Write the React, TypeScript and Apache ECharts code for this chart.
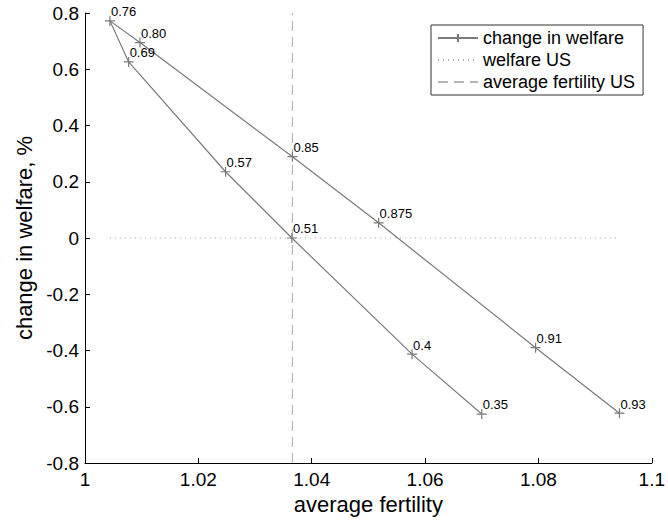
import React, { useEffect, useRef } from "react";
import * as echarts from "echarts";

const paramLabels = ["0.35", "0.4", "0.51", "0.57", "0.69", "0.76", "0.80", "0.85", "0.875", "0.91", "0.93"];
const fertility = [1.0700, 1.0577, 1.0365, 1.0248, 1.0077, 1.0044, 1.0097, 1.0366, 1.0518, 1.0795, 1.0943];
const welfare = [-0.626, -0.413, 0.0, 0.2355, 0.626, 0.772, 0.695, 0.289, 0.054, -0.39, -0.623];
const welfareUS = 0;
const fertilityUS = 1.0366;
const xRange = [1, 1.1];
const yRange = [-0.8, 0.8];

const FONT = "'Liberation Sans', Arial, Helvetica, sans-serif";

export default function App() {
  const ref = useRef<HTMLDivElement>(null);
  useEffect(() => {
    if (!ref.current) return;
    const chart = echarts.init(ref.current, undefined, { renderer: "svg" });
    const mainData = fertility.map((x, i) => ({ value: [x, welfare[i]], name: paramLabels[i] }));
    const xMin = Math.min(...fertility);
    const xMax = Math.max(...fertility);
    chart.setOption({
      animation: false,
      textStyle: { fontFamily: FONT },
      grid: { left: 85, right: 10, top: 13, bottom: 62, containLabel: false },
      legend: {
        orient: "vertical",
        left: 431,
        top: 25,
        padding: [4, 8, 4, 6],
        itemGap: 4,
        itemWidth: 40,
        itemHeight: 10,
        borderColor: "#333",
        borderWidth: 1,
        backgroundColor: "#fff",
        textStyle: { fontFamily: FONT, fontSize: 18, color: "#000", lineHeight: 17 },
        data: [
          { name: "change in welfare" },
          { name: "welfare US", itemStyle: { opacity: 0 } },
          { name: "average fertility US", itemStyle: { opacity: 0 } },
        ],
      },
      xAxis: {
        type: "value",
        min: xRange[0],
        max: xRange[1],
        interval: 0.02,
        name: "average fertility",
        nameLocation: "middle",
        nameGap: 30,
        nameTextStyle: { fontFamily: FONT, fontSize: 22, color: "#000" },
        axisLine: { show: true, onZero: false, lineStyle: { color: "#000", width: 1 } },
        axisTick: { show: true, inside: true, length: 5, lineStyle: { color: "#000" } },
        axisLabel: { fontFamily: FONT, fontSize: 19, color: "#000", margin: 7 },
        splitLine: { show: false },
      },
      yAxis: {
        type: "value",
        min: yRange[0],
        max: yRange[1],
        interval: 0.2,
        name: "change in welfare, %",
        nameLocation: "middle",
        nameGap: 37,
        nameTextStyle: { fontFamily: FONT, fontSize: 22, color: "#000" },
        axisLine: { show: true, onZero: false, lineStyle: { color: "#000", width: 1 } },
        axisTick: { show: true, inside: true, length: 5, lineStyle: { color: "#000" } },
        axisLabel: { fontFamily: FONT, fontSize: 19, color: "#000", margin: 6 },
        splitLine: { show: false },
      },
      series: [
        {
          name: "change in welfare",
          type: "line",
          data: mainData,
          symbol: "path://M5 0 L5 10 M0 5 L10 5",
          symbolSize: 10,
          showSymbol: true,
          lineStyle: { color: "#7a7a7a", width: 1.2 },
          itemStyle: { color: "#7a7a7a", borderColor: "#7a7a7a", borderWidth: 1.2 },
          label: {
            show: true,
            formatter: (p: any) => p.name,
            position: "top",
            align: "left",
            verticalAlign: "bottom",
            distance: -3,
            offset: [1, 0],
            fontFamily: FONT,
            fontSize: 13,
            color: "#000",
          },
          emphasis: { disabled: true },
          z: 5,
        },
        {
          name: "welfare US",
          type: "line",
          data: [[xMin, welfareUS], [xMax, welfareUS]],
          symbol: "none",
          lineStyle: { color: "#aaaaaa", width: 1, type: [1, 4] },
          itemStyle: { color: "#aaaaaa" },
          emphasis: { disabled: true },
          z: 2,
        },
        {
          name: "average fertility US",
          type: "line",
          data: [[fertilityUS, yRange[0]], [fertilityUS, yRange[1]]],
          symbol: "none",
          lineStyle: { color: "#b5b5b5", width: 1.2, type: [10, 6] },
          itemStyle: { color: "#b5b5b5" },
          emphasis: { disabled: true },
          z: 2,
        },
      ],
    });
    return () => chart.dispose();
  }, []);
  return <div ref={ref} style={{ width: 668, height: 525, position: "absolute", left: 0, top: 0, background: "#fff" }} />;
}
